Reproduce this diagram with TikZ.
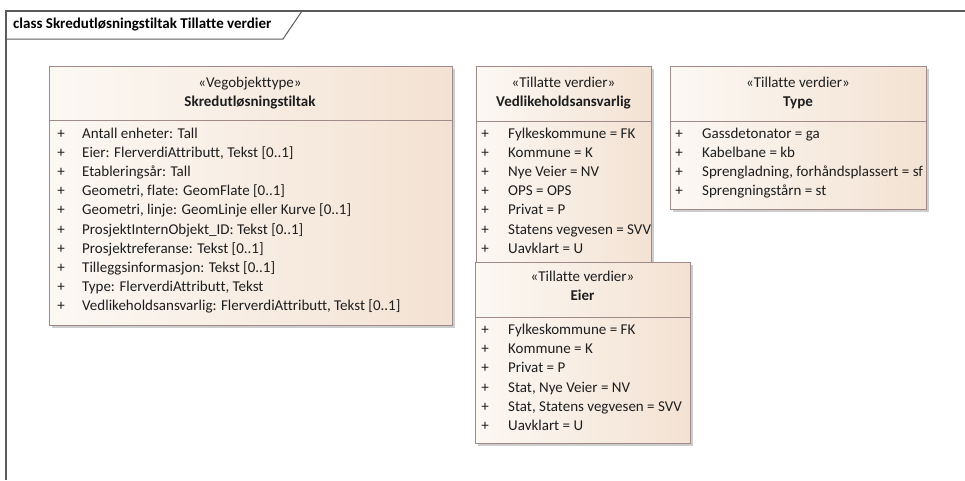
\documentclass[tikz,border=0pt]{standalone}
\usepackage{fontspec}
\setmainfont{Carlito}[Ligatures=NoCommon]
\definecolor{boxline}{RGB}{160,138,138}
\definecolor{boxlight}{RGB}{252,248,243}
\definecolor{boxdark}{RGB}{243,226,211}
\definecolor{shadowgray}{RGB}{205,205,205}
\definecolor{textcol}{RGB}{30,30,30}
\definecolor{frameline}{RGB}{90,90,90}
\begin{document}
\begin{tikzpicture}[x=1pt,y=-1pt,
  box/.style={draw=boxline,line width=0.9pt,left color=boxlight,right color=boxdark},
  shadowbox/.style={fill=shadowgray},
  row/.style={anchor=west,inner sep=0pt,text height=0.72em,text depth=0.22em,
    font=\fontsize{15}{18}\selectfont,text=textcol},
  plus/.style={row,anchor=center},
  stereo/.style={inner sep=0pt,text height=0.72em,text depth=0.22em,
    font=\fontsize{15}{18}\selectfont,text=textcol},
  cname/.style={stereo,font=\fontsize{15}{18}\selectfont\bfseries}]
\useasboundingbox (0,0) rectangle (965,480);
\draw[frameline,line width=1.2pt] (6,480) -- (6,11) -- (965,11);
\draw[frameline,line width=1pt] (6,39) -- (283,39) -- (302,11);
\node[anchor=west,inner sep=0pt,font=\fontsize{15}{17}\selectfont\bfseries] (title) at (13,25) {class Skredutløsningstiltak Tillatte verdier};

% Skredutløsningstiltak
\fill[shadowbox] (52,69) rectangle (455,328);
\draw[box] (49,66) rectangle (452,325);
\draw[boxline,line width=0.9pt] (49,120) -- (452,120);
\node[stereo] (sk-st) at (250,85) {«Vegobjekttype»};
\node[cname] (sk-nm) at (250,104) {Skredutløsningstiltak};
\foreach \t [count=\i] in {{Antall enheter: Tall},{Eier: FlerverdiAttributt, Tekst [0..1]},
  {Etableringsår: Tall},{Geometri, flate: GeomFlate [0..1]},
  {Geometri, linje: GeomLinje eller Kurve [0..1]},{ProsjektInternObjekt\_ID: Tekst [0..1]},
  {Prosjektreferanse: Tekst [0..1]},{Tilleggsinformasjon: Tekst [0..1]},
  {Type: FlerverdiAttributt, Tekst},{Vedlikeholdsansvarlig: FlerverdiAttributt, Tekst [0..1]}}{
  \node[plus] (sk-p\i) at (61,{136+(\i-1)*19.1}) {+};
  \node[row] (sk-\i) at (82,{136+(\i-1)*19.1}) {\t};
}

% Vedlikeholdsansvarlig
\fill[shadowbox] (479,69) rectangle (654,269);
\draw[box] (476,66) rectangle (651,266);
\draw[boxline,line width=0.9pt] (476,121) -- (651,121);
\node[stereo] (va-st) at (563.5,85) {«Tillatte verdier»};
\node[cname] (va-nm) at (563.5,104) {Vedlikeholdsansvarlig};
\foreach \t [count=\i] in {{Fylkeskommune = FK},{Kommune = K},{Nye Veier = NV},
  {OPS = OPS},{Privat = P},{Statens vegvesen = SVV},{Uavklart = U}}{
  \node[plus] (va-p\i) at (485,{136+(\i-1)*19.1}) {+};
  \node[row] (va-\i) at (508,{136+(\i-1)*19.1}) {\t};
}

% Type
\fill[shadowbox] (673,69) rectangle (929,212);
\draw[box] (670,66) rectangle (926,209);
\draw[boxline,line width=0.9pt] (670,121) -- (926,121);
\node[stereo] (ty-st) at (798,85) {«Tillatte verdier»};
\node[cname] (ty-nm) at (798,104) {Type};
\foreach \t [count=\i] in {{Gassdetonator = ga},{Kabelbane = kb},
  {Sprengladning, forhåndsplassert = sf},{Sprengningstårn = st}}{
  \node[plus] (ty-p\i) at (679,{136+(\i-1)*19.1}) {+};
  \node[row] (ty-\i) at (702,{136+(\i-1)*19.1}) {\t};
}

% Eier
\fill[shadowbox] (478,265) rectangle (693,446);
\draw[box] (475,262) rectangle (690,443);
\draw[boxline,line width=0.9pt] (475,317) -- (690,317);
\node[stereo] (ei-st) at (582.5,279) {«Tillatte verdier»};
\node[cname] (ei-nm) at (582.5,298) {Eier};
\foreach \t [count=\i] in {{Fylkeskommune = FK},{Kommune = K},{Privat = P},
  {Stat, Nye Veier = NV},{Stat, Statens vegvesen = SVV},{Uavklart = U}}{
  \node[plus] (ei-p\i) at (485,{332+(\i-1)*19.2}) {+};
  \node[row] (ei-\i) at (508,{332+(\i-1)*19.2}) {\t};
}
\end{tikzpicture}
\end{document}
